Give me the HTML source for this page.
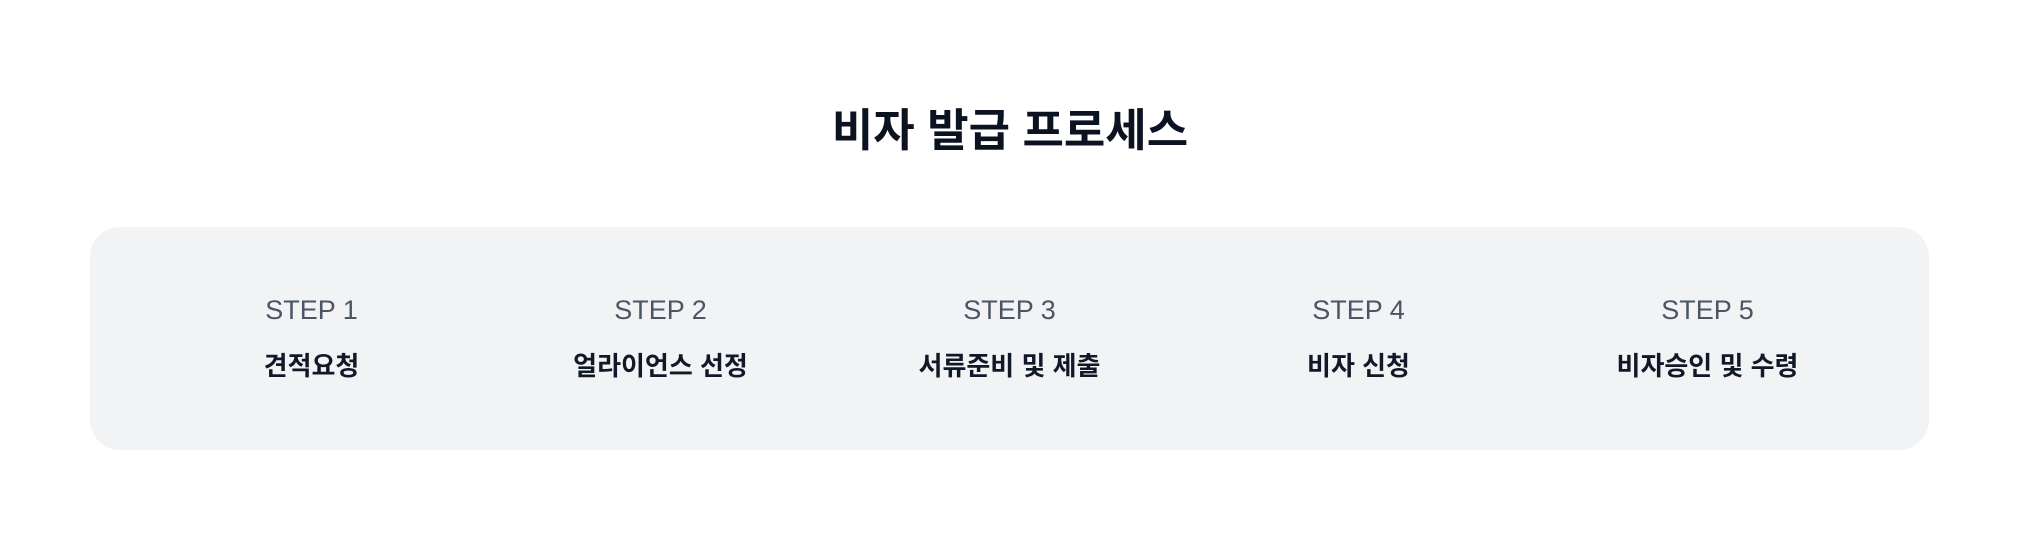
<!DOCTYPE html>
<html><head><meta charset="utf-8"><style>
html,body{margin:0;padding:0;background:#fff;width:2020px;height:534px;overflow:hidden;font-family:"Liberation Sans","Noto Sans CJK KR",sans-serif}
h1{position:absolute;left:0;width:2020px;top:101px;margin:0;text-align:center;font-size:45px;line-height:60px;font-weight:700;color:#0b1220;font-family:"Liberation Sans","Noto Sans CJK KR",sans-serif}
.panel{position:absolute;left:90px;top:227px;width:1839px;height:223px;background:#f2f3f5;border-radius:30px}
.col{position:absolute;top:0;width:349px;text-align:center}
.s{position:absolute;top:67px;width:100%;font-size:27px;line-height:32px;color:#4b5563}
.n{position:absolute;top:121px;width:100%;font-size:26px;line-height:36px;font-weight:700;color:#111827}
</style></head><body>
<h1>비자 발급 프로세스</h1>
<div class="panel">
<div class="col" style="left:47px"><div class="s">STEP 1</div><div class="n">견적요청</div></div>
<div class="col" style="left:396px"><div class="s">STEP 2</div><div class="n">얼라이언스 선정</div></div>
<div class="col" style="left:745px"><div class="s">STEP 3</div><div class="n">서류준비 및 제출</div></div>
<div class="col" style="left:1094px"><div class="s">STEP 4</div><div class="n">비자 신청</div></div>
<div class="col" style="left:1443px"><div class="s">STEP 5</div><div class="n">비자승인 및 수령</div></div>
</div>
</body></html>
